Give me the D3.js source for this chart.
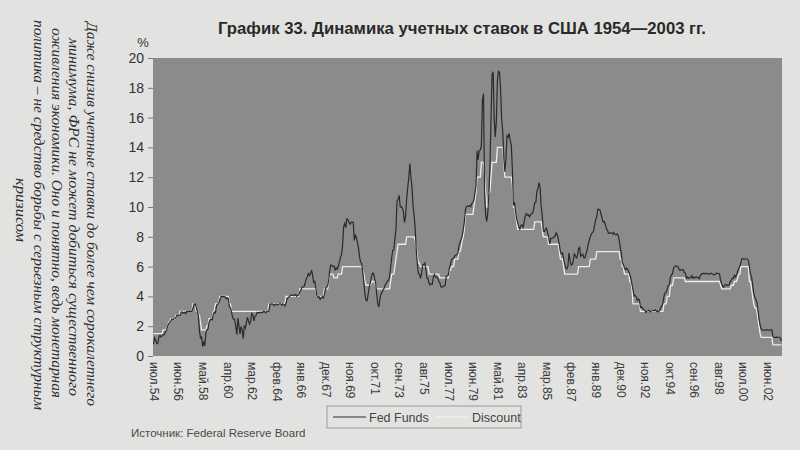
<!DOCTYPE html>
<html><head><meta charset="utf-8">
<script src="https://cdn.jsdelivr.net/npm/d3@7/dist/d3.min.js"></script>
<style>
body{margin:0;background:#e2e2e0;}
svg{display:block;}
</style>
</head><body>
<svg id="chart" width="800" height="450"></svg>
<script>
const chartTitle = "График 33. Динамика учетных ставок в США 1954—2003 гг.";
const unitLabel = "%";
const sourceText = "Источник: Federal Reserve Board";
const seriesNames = ["Fed Funds", "Discount"];
const noteLines = [
  "Даже снизив учетные ставки до более чем сорокалетнего",
  "минимума, ФРС не может добиться существенного",
  "оживления экономики. Оно и понятно, ведь монетарная",
  "политика – не средство борьбы с серьезным структурным",
  "кризисом"
];
const yTicks = [0, 2, 4, 6, 8, 10, 12, 14, 16, 18, 20];
const xTickLabels = ["июл.54","июн.56","май.58","апр.60","мар.62","фев.64","янв.66","дек.67","ноя.69","окт.71","сен.73","авг.75","июл.77","июн.79","май.81","апр.83","мар.85","фев.87","янв.89","дек.90","ноя.92","окт.94","сен.96","авг.98","июл.00","июн.02"];

// Monthly values, July 1954 – July 2003
const fedFunds = [
0.80,1.22,1.07,0.85,0.83,1.28,
1.39,1.29,1.35,1.43,1.43,1.64,1.68,1.96,2.18,2.24,2.35,2.48,
2.45,2.50,2.50,2.62,2.75,2.71,2.75,2.73,2.95,2.96,2.88,2.94,
2.84,3.00,2.96,3.00,3.00,3.00,2.99,3.24,3.47,3.50,3.28,2.98,
2.72,1.67,1.20,1.26,0.63,0.93,0.68,1.53,1.76,1.80,2.27,2.42,
2.48,2.43,2.80,2.96,2.90,3.39,3.47,3.50,3.76,3.98,4.00,3.99,
3.99,3.97,3.84,3.92,3.85,3.32,3.23,2.98,2.60,2.47,2.44,1.98,
1.45,2.54,2.02,1.49,1.98,1.73,1.17,2.00,1.88,2.26,2.61,2.33,
2.15,2.37,2.85,2.78,2.36,2.68,2.71,2.93,2.90,2.90,2.94,2.93,
2.92,3.00,2.98,2.90,3.00,2.99,3.02,3.49,3.48,3.50,3.48,3.38,
3.48,3.48,3.43,3.47,3.50,3.50,3.42,3.50,3.45,3.36,3.52,3.85,
3.90,3.98,4.04,4.09,4.10,4.04,4.09,4.12,4.01,4.08,4.10,4.32,
4.42,4.60,4.65,4.67,4.90,5.17,5.30,5.53,5.40,5.53,5.76,5.40,
4.94,5.00,4.53,4.05,3.94,3.98,3.79,3.90,3.99,3.88,4.13,4.51,
4.61,4.71,5.05,5.76,6.11,6.07,6.02,6.03,5.78,5.91,5.82,6.02,
6.30,6.61,6.79,7.41,8.67,8.90,8.61,9.19,9.15,9.00,8.85,8.97,
8.98,8.98,7.76,8.10,7.95,7.61,7.21,6.61,6.29,6.20,5.60,4.90,
4.14,3.72,3.71,4.16,4.63,4.91,5.31,5.56,5.55,5.20,4.91,4.14,
3.50,3.29,3.83,4.17,4.27,4.46,4.55,4.80,4.87,5.04,5.06,5.33,
5.94,6.58,7.09,7.12,7.84,8.49,10.40,10.50,10.78,10.01,10.03,9.95,
9.65,8.97,9.35,10.51,11.31,11.93,12.92,12.01,11.34,10.06,9.45,8.53,
7.13,6.24,5.54,5.49,5.22,5.55,6.10,6.14,6.24,5.82,5.22,5.20,
4.87,4.77,4.84,4.82,5.29,5.48,5.31,5.29,5.25,5.02,4.95,4.65,
4.61,4.68,4.69,4.73,5.35,5.39,5.42,5.90,6.14,6.47,6.51,6.56,
6.70,6.78,6.79,6.89,7.36,7.60,7.81,8.04,8.45,8.96,9.76,10.03,
10.07,10.06,10.09,10.01,10.24,10.29,10.47,10.94,11.43,13.77,13.18,13.78,
13.82,14.13,17.19,17.61,10.98,9.47,9.03,9.61,10.87,12.81,15.85,18.90,
19.08,15.93,14.70,15.72,18.52,19.10,19.04,17.82,15.87,15.08,13.31,12.37,
13.22,14.78,14.68,14.94,14.45,14.15,12.59,10.12,10.31,9.71,9.20,8.95,
8.68,8.51,8.77,8.80,8.63,8.98,9.37,9.56,9.45,9.48,9.34,9.47,
9.56,9.59,9.91,10.29,10.32,11.06,11.23,11.64,11.30,9.99,9.43,8.38,
8.35,8.50,8.58,8.27,7.97,7.53,7.88,7.90,7.92,7.99,8.05,8.27,
8.14,7.86,7.48,6.99,6.85,6.92,6.56,6.17,5.89,5.85,6.04,6.91,
6.43,6.10,6.13,6.37,6.85,6.73,6.58,6.73,7.22,7.29,6.69,6.77,
6.83,6.58,6.58,6.87,7.09,7.51,7.75,8.01,8.19,8.30,8.35,8.76,
9.12,9.36,9.85,9.84,9.81,9.53,9.24,8.99,9.02,8.84,8.55,8.45,
8.23,8.24,8.28,8.26,8.18,8.29,8.15,8.13,8.20,8.11,7.81,7.31,
6.91,6.25,6.12,5.91,5.78,5.90,5.82,5.66,5.45,5.21,4.81,4.43,
4.03,4.06,3.98,3.73,3.82,3.76,3.25,3.30,3.22,3.10,3.09,2.92,
3.02,3.03,3.07,2.96,3.00,3.04,3.06,3.03,3.09,2.99,3.02,2.96,
3.05,3.25,3.34,3.56,4.01,4.25,4.26,4.47,4.73,4.76,5.29,5.45,
5.53,5.92,5.98,6.05,6.01,6.00,5.85,5.74,5.80,5.76,5.80,5.60,
5.56,5.22,5.31,5.22,5.24,5.27,5.40,5.22,5.30,5.24,5.31,5.29,
5.25,5.19,5.39,5.51,5.50,5.56,5.52,5.54,5.54,5.50,5.52,5.50,
5.56,5.51,5.49,5.45,5.49,5.56,5.54,5.55,5.51,5.07,4.83,4.68,
4.63,4.76,4.81,4.74,4.74,4.76,4.99,5.07,5.22,5.20,5.42,5.30,
5.45,5.73,5.85,6.02,6.27,6.53,6.54,6.50,6.52,6.51,6.51,6.40,
5.98,5.49,5.31,4.80,4.21,3.97,3.77,3.65,3.07,2.49,2.09,1.82,
1.73,1.74,1.73,1.75,1.75,1.75,1.73,1.74,1.75,1.75,1.34,1.24,
1.24,1.26,1.25,1.26,1.26,1.22,1.01
];
const discountRate = [
1.5,1.5,1.5,1.5,1.5,1.5,
1.5,1.5,1.5,1.75,1.75,1.75,1.75,2.0,2.25,2.25,2.5,2.5,
2.5,2.5,2.5,2.75,2.75,2.75,2.75,3.0,3.0,3.0,3.0,3.0,
3.0,3.0,3.0,3.0,3.0,3.0,3.0,3.5,3.5,3.5,3.0,3.0,
2.75,2.75,2.25,1.75,1.75,1.75,1.75,1.75,2.0,2.0,2.5,2.5,
2.5,2.5,3.0,3.0,3.5,3.5,3.5,3.5,4.0,4.0,4.0,4.0,
4.0,4.0,4.0,4.0,4.0,3.5,3.5,3.0,3.0,3.0,3.0,3.0,
3.0,3.0,3.0,3.0,3.0,3.0,3.0,3.0,3.0,3.0,3.0,3.0,
3.0,3.0,3.0,3.0,3.0,3.0,3.0,3.0,3.0,3.0,3.0,3.0,
3.0,3.0,3.0,3.0,3.0,3.0,3.5,3.5,3.5,3.5,3.5,3.5,
3.5,3.5,3.5,3.5,3.5,3.5,3.5,3.5,3.5,3.5,4.0,4.0,
4.0,4.0,4.0,4.0,4.0,4.0,4.0,4.0,4.0,4.0,4.0,4.5,
4.5,4.5,4.5,4.5,4.5,4.5,4.5,4.5,4.5,4.5,4.5,4.5,
4.5,4.5,4.5,4.0,4.0,4.0,4.0,4.0,4.0,4.0,4.5,4.5,
4.5,4.5,5.0,5.5,5.5,5.5,5.5,5.25,5.25,5.25,5.25,5.5,
5.5,5.5,5.5,6.0,6.0,6.0,6.0,6.0,6.0,6.0,6.0,6.0,
6.0,6.0,6.0,6.0,6.0,6.0,6.0,6.0,6.0,6.0,5.75,5.5,
5.0,4.75,4.75,4.75,4.75,4.75,5.0,5.0,5.0,5.0,4.75,4.5,
4.5,4.5,4.5,4.5,4.5,4.5,4.5,4.5,4.5,4.5,4.5,4.5,
5.0,5.5,5.5,5.5,6.0,6.5,7.0,7.5,7.5,7.5,7.5,7.5,
7.5,7.5,7.5,8.0,8.0,8.0,8.0,8.0,8.0,8.0,8.0,7.75,
7.25,6.75,6.25,6.25,6.0,6.0,6.0,6.0,6.0,6.0,6.0,6.0,
5.5,5.5,5.5,5.5,5.5,5.5,5.5,5.5,5.5,5.5,5.25,5.25,
5.25,5.25,5.25,5.25,5.25,5.25,5.25,5.75,5.75,6.0,6.0,6.0,
6.5,6.5,6.5,6.5,7.0,7.0,7.25,7.75,8.0,8.5,9.5,9.5,
9.5,9.5,9.5,9.5,9.5,9.5,10.0,10.5,11.0,12.0,12.0,12.0,
12.0,13.0,13.0,13.0,12.0,11.0,10.0,10.0,11.0,11.0,12.0,13.0,
13.0,13.0,13.0,13.0,14.0,14.0,14.0,14.0,14.0,14.0,13.0,12.0,
12.0,12.0,12.0,12.0,12.0,12.0,11.5,10.0,10.0,9.5,9.0,8.5,
8.5,8.5,8.5,8.5,8.5,8.5,8.5,8.5,8.5,8.5,8.5,8.5,
8.5,8.5,8.5,9.0,9.0,9.0,9.0,9.0,9.0,9.0,8.5,8.0,
8.0,8.0,8.0,8.0,7.5,7.5,7.5,7.5,7.5,7.5,7.5,7.5,
7.5,7.5,7.0,6.5,6.5,6.5,6.0,5.5,5.5,5.5,5.5,5.5,
5.5,5.5,5.5,5.5,5.5,5.5,5.5,5.5,6.0,6.0,6.0,6.0,
6.0,6.0,6.0,6.0,6.0,6.0,6.0,6.5,6.5,6.5,6.5,6.5,
6.5,7.0,7.0,7.0,7.0,7.0,7.0,7.0,7.0,7.0,7.0,7.0,
7.0,7.0,7.0,7.0,7.0,7.0,7.0,7.0,7.0,7.0,7.0,6.5,
6.5,6.0,6.0,5.5,5.5,5.5,5.5,5.5,5.0,5.0,4.5,3.5,
3.5,3.5,3.5,3.5,3.5,3.5,3.0,3.0,3.0,3.0,3.0,3.0,
3.0,3.0,3.0,3.0,3.0,3.0,3.0,3.0,3.0,3.0,3.0,3.0,
3.0,3.0,3.0,3.0,3.5,3.5,3.5,4.0,4.0,4.0,4.75,4.75,
4.75,5.25,5.25,5.25,5.25,5.25,5.25,5.25,5.25,5.25,5.25,5.25,
5.0,5.0,5.0,5.0,5.0,5.0,5.0,5.0,5.0,5.0,5.0,5.0,
5.0,5.0,5.0,5.0,5.0,5.0,5.0,5.0,5.0,5.0,5.0,5.0,
5.0,5.0,5.0,5.0,5.0,5.0,5.0,5.0,5.0,4.75,4.5,4.5,
4.5,4.5,4.5,4.5,4.5,4.5,4.5,4.75,4.75,4.75,5.0,5.0,
5.0,5.25,5.5,5.5,6.0,6.0,6.0,6.0,6.0,6.0,6.0,6.0,
5.0,5.0,4.5,4.0,3.5,3.25,3.25,3.0,2.5,2.0,1.5,1.25,
1.25,1.25,1.25,1.25,1.25,1.25,1.25,1.25,1.25,1.25,0.75,0.75,
0.75,0.75,0.75,0.75,0.75,0.75,0.75
];

const svg = d3.select("#chart");
const plot = {left: 153, right: 782, top: 58, bottom: 356};
const tickEvery = 23;

const x = d3.scaleLinear().domain([-0.5, fedFunds.length - 0.5]).range([plot.left, plot.right]);
const y = d3.scaleLinear().domain([0, 20]).range([plot.bottom, plot.top]);

// plot area
svg.append("rect")
  .attr("x", plot.left).attr("y", plot.top)
  .attr("width", plot.right - plot.left).attr("height", plot.bottom - plot.top)
  .attr("fill", "#8b8b8a");

// Y axis
const yAxis = svg.append("g")
  .attr("transform", `translate(${plot.left},0)`)
  .call(d3.axisLeft(y).tickValues(yTicks).tickSize(5).tickPadding(4));
yAxis.select(".domain").remove();
yAxis.selectAll("line").attr("stroke", "#777");
yAxis.selectAll("text")
  .attr("fill", "#333")
  .style("font-family", "'Liberation Sans', Arial, sans-serif")
  .style("font-size", "14px");

svg.append("text")
  .attr("x", 143).attr("y", 47)
  .attr("text-anchor", "middle")
  .attr("fill", "#333")
  .style("font-family", "'Liberation Sans', Arial, sans-serif")
  .style("font-size", "13px")
  .text(unitLabel);

// X axis
const xAxis = svg.append("g")
  .attr("transform", `translate(0,${plot.bottom})`)
  .call(d3.axisBottom(x)
    .tickValues(xTickLabels.map((d, i) => i * tickEvery))
    .tickFormat((d, i) => xTickLabels[i])
    .tickSize(0));
xAxis.select(".domain").remove();
xAxis.selectAll("text")
  .attr("transform", "rotate(90)")
  .attr("x", 6).attr("y", 0).attr("dy", "0.35em")
  .attr("text-anchor", "start")
  .attr("fill", "#3a3a3a")
  .style("font-family", "'Liberation Sans', Arial, sans-serif")
  .style("font-size", "12px");

// lines
const line = d3.line().x((d, i) => x(i)).y(d => y(d));
svg.append("path").datum(discountRate)
  .attr("d", line).attr("fill", "none")
  .attr("stroke", "#ececea").attr("stroke-width", 1.3);
svg.append("path").datum(fedFunds)
  .attr("d", line).attr("fill", "none")
  .attr("stroke", "#2a2a2a").attr("stroke-width", 1.2);

// Title
svg.append("text")
  .attr("x", 462).attr("y", 34)
  .attr("text-anchor", "middle")
  .attr("textLength", 488).attr("lengthAdjust", "spacingAndGlyphs")
  .attr("fill", "#2a2a2a")
  .style("font-family", "'Liberation Sans Narrow', 'Liberation Sans', Arial, sans-serif")
  .style("font-weight", "bold")
  .style("font-size", "17px")
  .text(chartTitle);

// Legend
const lg = svg.append("g");
lg.append("rect").attr("x", 327).attr("y", 406).attr("width", 194).attr("height", 22)
  .attr("fill", "none").attr("stroke", "#9a9a9a").attr("stroke-width", 1);
lg.append("line").attr("x1", 333).attr("x2", 366).attr("y1", 417).attr("y2", 417)
  .attr("stroke", "#2a2a2a").attr("stroke-width", 1.2);
lg.append("text").attr("x", 369).attr("y", 421.5).text(seriesNames[0]);
lg.append("line").attr("x1", 436).attr("x2", 469).attr("y1", 417).attr("y2", 417)
  .attr("stroke", "#ececea").attr("stroke-width", 1.3);
lg.append("text").attr("x", 472).attr("y", 421.5).text(seriesNames[1]);
lg.selectAll("text").attr("fill", "#444")
  .style("font-family", "'Liberation Sans', Arial, sans-serif")
  .style("font-size", "12.5px");

// Source
svg.append("text").attr("x", 131).attr("y", 437)
  .attr("fill", "#4a4a4a")
  .style("font-family", "'Liberation Sans', Arial, sans-serif")
  .style("font-size", "11.5px")
  .text(sourceText);

// Rotated side note
const noteX = [92, 74, 57, 39, 21];
const noteStart = [22, 38, 28, 20, 178];
const noteLen = [384, 358, 370, 390, 64];
noteLines.forEach((t, i) => {
  svg.append("text")
    .attr("transform", `translate(${noteX[i]},${noteStart[i]}) rotate(90)`)
    .attr("dy", "0.35em")
    .attr("textLength", noteLen[i]).attr("lengthAdjust", "spacingAndGlyphs")
    .attr("fill", "#2e2e2e")
    .style("font-family", "'Liberation Serif', 'Times New Roman', serif")
    .style("font-style", "italic")
    .style("font-size", "15px")
    .text(t);
});
</script>
</body></html>
